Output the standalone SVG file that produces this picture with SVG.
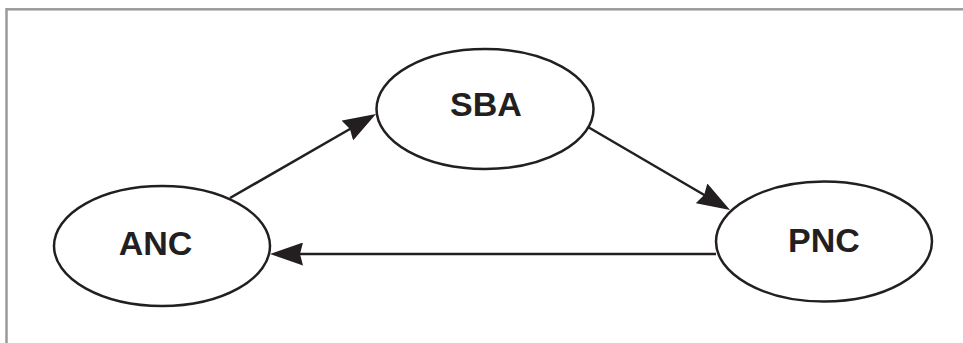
<svg xmlns="http://www.w3.org/2000/svg" width="963" height="343" viewBox="0 0 963 343">
  <style>
    .node ellipse { fill: #ffffff; stroke: #231f20; stroke-width: 2.5; }
    .node text { font-family: "Liberation Sans", Arial, sans-serif; font-weight: bold; font-size: 34px; fill: #231f20; text-anchor: middle; }
    .edge { fill: none; stroke: #231f20; stroke-width: 2.5; marker-end: url(#arrow); }
  </style>
  <defs>
    <marker id="arrow" markerUnits="userSpaceOnUse" viewBox="0 0 33 23" markerWidth="33" markerHeight="23" refX="23" refY="11.5" orient="auto">
      <path d="M0,0 L33,11.5 L0,23 L3,11.5 Z" fill="#231f20"/>
    </marker>
  </defs>

  <rect width="963" height="343" fill="#ffffff"/>
  <!-- outer frame (open on the right and bottom) -->
  <rect x="6.5" y="9.3" width="1000" height="400" fill="none" stroke="#9a9a9a" stroke-width="2.5"/>

  <g id="connectors">
    <line class="edge" x1="230" y1="198" x2="367.3" y2="119"/>
    <line class="edge" x1="588" y1="127" x2="721.4" y2="205"/>
    <line class="edge" x1="716" y1="254" x2="280" y2="254"/>
  </g>

  <g id="node-anc" class="node">
    <ellipse cx="162" cy="246" rx="108" ry="60"/>
    <text x="155.5" y="255">ANC</text>
  </g>
  <g id="node-sba" class="node">
    <ellipse cx="485" cy="109" rx="108.5" ry="60"/>
    <text x="486" y="116">SBA</text>
  </g>
  <g id="node-pnc" class="node">
    <ellipse cx="824" cy="241.5" rx="108" ry="60"/>
    <text x="824" y="252">PNC</text>
  </g>
</svg>
